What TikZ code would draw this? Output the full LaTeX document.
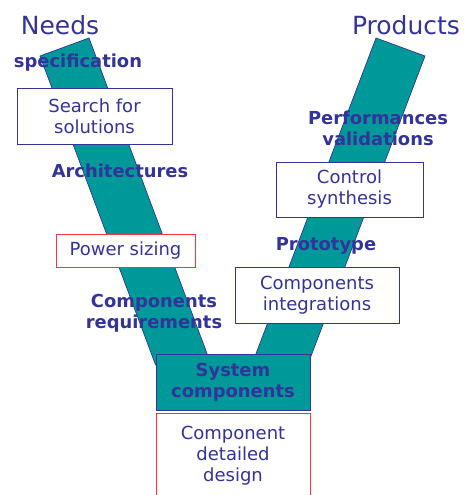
\documentclass[tikz,border=0pt]{standalone}
\usepackage{fontspec}
\setmainfont{DejaVu Sans}
\definecolor{vblue}{HTML}{333399}
\definecolor{vteal}{HTML}{009999}
\definecolor{vred}{HTML}{FF3333}

\begin{document}
\begin{tikzpicture}[x=1pt, y=-1pt,
    arm/.style={fill=vteal, draw=vblue, line width=0.7pt},
    taskbox/.style={draw=vblue, fill=white, line width=0.8pt, text=vblue, align=center,
      font=\fontsize{18}{21}\selectfont, inner sep=0pt},
    redbox/.style={taskbox, draw=vred},
    phase/.style={text=vblue, align=center, font=\fontsize{17.9}{21.5}\selectfont\bfseries, inner sep=0pt},
    vtitle/.style={text=vblue, font=\fontsize{25}{30}\selectfont, inner sep=0pt}]
    \useasboundingbox (0,0) rectangle (466,495);

    % The two arms of the V
    \draw[arm] (40,56) -- (89,38) -- (211.3,365) -- (155.6,365) -- cycle;
    \draw[arm] (376,38) -- (425,56) -- (307.6,365) -- (251.7,365) -- cycle;

    % Titles
    \node[vtitle, anchor=base] (needs) at (60,35) {Needs};
    \node[vtitle, anchor=base] (products) at (406,35) {Products};

    % Descending branch
    \node[phase, anchor=base] (spec) at (78,67) {specification};
    \node[taskbox, minimum width=155, minimum height=56] (search) at (94.5,116) {Search for\\solutions};
    \node[phase, anchor=base] (archi) at (120,177) {Architectures};
    \node[redbox, minimum width=139, minimum height=33] (sizing) at (125.5,250.5) {Power sizing};
    \node[phase] (requirements) at (154,313) {Components\\requirements};

    % Bottom of the V
    \node[phase, draw=vblue, fill=vteal, line width=0.8pt, minimum width=154, minimum height=56] (system) at (233,382) {System\\components};
    \node[redbox, minimum width=154, minimum height=85] (detailed) at (233,455.5) {Component\\detailed\\design};

    % Ascending branch
    \node[taskbox, minimum width=164, minimum height=56] (integration) at (317,295) {Components\\integrations};
    \node[phase, anchor=base] (proto) at (326,250) {Prototype};
    \node[taskbox, minimum width=147, minimum height=55] (control) at (349.5,189.5) {Control\\synthesis};
    \node[phase] (validation) at (378,128.5) {Performances\\validations};

\end{tikzpicture}
\end{document}
